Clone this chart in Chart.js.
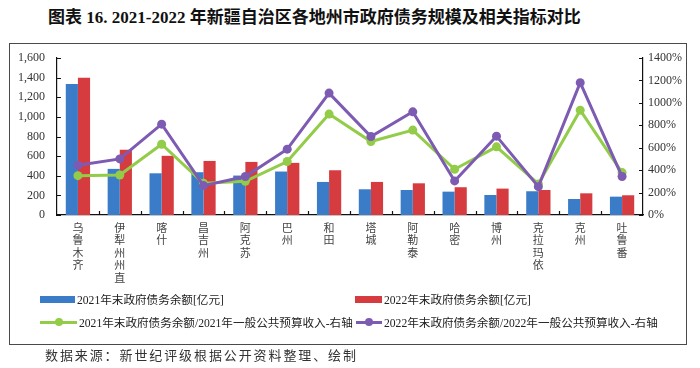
<!DOCTYPE html>
<html>
<head>
<meta charset="utf-8">
<script src="https://cdn.jsdelivr.net/npm/chart.js@4.4.1/dist/chart.umd.min.js"></script>
<style>
  html, body { margin: 0; padding: 0; background: #fff; }
  body { width: 700px; height: 368px; position: relative; overflow: hidden; }
  #title { position: absolute; left: 48px; top: 3px; font-family: "Liberation Serif", "Noto Sans CJK SC", serif; font-weight: bold; font-size: 17px; color: #111; white-space: nowrap; }
  #box { position: absolute; left: 9px; top: 43px; width: 678px; height: 302px; border: 1.5px solid #4a4a4a; box-sizing: border-box; }
  #wrap { position: absolute; left: 0; top: 0; width: 700px; height: 290px; }
  #legend { position: absolute; left: 0; top: 0; width: 700px; height: 368px; pointer-events: none; font-family: "Liberation Serif", "Noto Sans CJK SC", serif; font-size: 11.6px; color: #222; }
  .li { position: absolute; white-space: nowrap; display: flex; align-items: center; }
  .sw { display: inline-block; margin-right: 2px; position: relative; }
  #source { position: absolute; left: 45px; top: 345px; font-family: "Noto Sans CJK SC", sans-serif; font-size: 13px; letter-spacing: 1.9px; color: #333; white-space: nowrap; }
</style>
</head>
<body>
<div id="title">图表 16. 2021-2022 年新疆自治区各地州市政府债务规模及相关指标对比</div>
<div id="box"></div>
<div id="wrap"><canvas id="c" width="700" height="290"></canvas></div>
<div id="legend"></div>
<div id="source">数据来源：新世纪评级根据公开资料整理、绘制</div>
<script>
const categories = ["乌鲁木齐", "伊犁州州直", "喀什", "昌吉州", "阿克苏", "巴州", "和田", "塔城", "阿勒泰", "哈密", "博州", "克拉玛依", "克州", "吐鲁番"];
const debt2021 = [1335, 470, 425, 436, 402, 443, 337, 262, 255, 238, 204, 242, 163, 187];
const debt2022 = [1400, 664, 603, 551, 541, 531, 456, 337, 323, 283, 269, 255, 221, 201];
const ratio2021 = [351, 357, 631, 283, 301, 477, 900, 655, 757, 408, 608, 277, 935, 378];
const ratio2022 = [444, 500, 810, 262, 343, 587, 1087, 700, 920, 304, 703, 253, 1180, 343];
const leftTicks = [0, 200, 400, 600, 800, 1000, 1200, 1400, 1600];
const rightTicks = [0, 200, 400, 600, 800, 1000, 1200, 1400];
const seriesNames = ["2021年末政府债务余额[亿元]", "2022年末政府债务余额[亿元]", "2021年末政府债务余额/2021年一般公共预算收入-右轴", "2022年末政府债务余额/2022年一般公共预算收入-右轴"];

const BLUE = "#3a7cc8", RED = "#d63b3f", GREEN = "#92cc48", PURPLE = "#7e5bb3";
const tickFont = { family: "'Liberation Serif', 'Noto Sans CJK SC', serif", size: 12 };

const inwardTicks = {
  id: "inwardTicks",
  afterDraw(chart) {
    const { ctx, chartArea: a, scales } = chart;
    ctx.save();
    ctx.strokeStyle = "#111";
    ctx.lineWidth = 1.2;
    ctx.beginPath();
    leftTicks.forEach(v => { const y = Math.round(scales.y.getPixelForValue(v)) + 0.5; ctx.moveTo(a.left, y); ctx.lineTo(a.left + 4, y); });
    rightTicks.forEach(v => { const y = Math.round(scales.y1.getPixelForValue(v)) + 0.5; ctx.moveTo(a.right, y); ctx.lineTo(a.right - 4, y); });
    for (let i = 1; i < categories.length; i++) {
      const x = Math.round((scales.x.getPixelForValue(i - 1) + scales.x.getPixelForValue(i)) / 2) + 0.5;
      ctx.moveTo(x, a.bottom); ctx.lineTo(x, a.bottom - 4);
    }
    ctx.stroke();
    ctx.restore();
  }
};

const chart = new Chart(document.getElementById("c"), {
  type: "bar",
  data: {
    labels: categories.map(s => s.split("")),
    datasets: [
      { type: "line", label: seriesNames[3], data: ratio2022, yAxisID: "y1", borderColor: PURPLE, backgroundColor: PURPLE, borderWidth: 3, pointRadius: 4.5, pointBackgroundColor: PURPLE, pointBorderWidth: 0, order: 0, tension: 0 },
      { type: "line", label: seriesNames[2], data: ratio2021, yAxisID: "y1", borderColor: GREEN, backgroundColor: GREEN, borderWidth: 3, pointRadius: 4.5, pointBackgroundColor: GREEN, pointBorderWidth: 0, order: 1, tension: 0 },
      { label: seriesNames[0], data: debt2021, backgroundColor: BLUE, yAxisID: "y", order: 2, categoryPercentage: 0.58, barPercentage: 1.0 },
      { label: seriesNames[1], data: debt2022, backgroundColor: RED, yAxisID: "y", order: 2, categoryPercentage: 0.58, barPercentage: 1.0 }
    ]
  },
  options: {
    responsive: false,
    animation: false,
    layout: { padding: { left: 10, right: 12, top: 58, bottom: 5 } },
    plugins: { legend: { display: false }, tooltip: { enabled: false }, title: { display: false } },
    scales: {
      x: {
        grid: { display: false, drawTicks: false },
        border: { display: true, color: "#111", width: 1.2 },
        ticks: { color: "#444", font: { family: "'Noto Sans CJK SC', sans-serif", size: 11, lineHeight: 1.15 }, padding: 6, maxRotation: 0, autoSkip: false },
        afterFit(s) { s.height = 70; }
      },
      y: {
        position: "left", min: 0, max: 1600,
        afterBuildTicks(s) { s.ticks = leftTicks.map(v => ({ value: v })); },
        grid: { display: false, drawTicks: false },
        border: { display: true, color: "#111", width: 1.2 },
        ticks: { color: "#333", font: tickFont, padding: 12, callback: v => v.toLocaleString("en-US") },
        afterFit(s) { s.width = 47; }
      },
      y1: {
        position: "right", min: 0, max: 1400,
        afterBuildTicks(s) { s.ticks = rightTicks.map(v => ({ value: v })); },
        grid: { display: false, drawTicks: false },
        border: { display: true, color: "#111", width: 1.2 },
        ticks: { color: "#333", font: tickFont, padding: 5, callback: v => v + "%" },
        afterFit(s) { s.width = 45; }
      }
    }
  },
  plugins: [inwardTicks]
});

// HTML legend built from the chart's datasets
const legend = document.getElementById("legend");
const byLabel = {};
chart.data.datasets.forEach(d => byLabel[d.label] = d);
const spots = [
  { name: seriesNames[0], x: 40, y: 291, kind: "box" },
  { name: seriesNames[1], x: 355, y: 291, kind: "box" },
  { name: seriesNames[2], x: 40, y: 314, kind: "line" },
  { name: seriesNames[3], x: 356, y: 314, kind: "line" }
];
spots.forEach(s => {
  const d = byLabel[s.name];
  const color = d.borderColor && d.type === "line" ? d.borderColor : d.backgroundColor;
  const item = document.createElement("div");
  item.className = "li";
  item.style.left = s.x + "px";
  item.style.top = s.y + "px";
  const sw = document.createElement("span");
  sw.className = "sw";
  if (s.kind === "box") {
    sw.style.width = (s.x < 100 ? 35 : 27) + "px";
    sw.style.height = "7px";
    sw.style.background = color;
  } else {
    const w = s.x < 100 ? 37 : 26;
    sw.style.width = w + "px";
    sw.style.height = "3px";
    sw.style.background = color;
    const dot = document.createElement("span");
    dot.style.cssText = "position:absolute;width:8px;height:8px;border-radius:50%;top:-2.5px;left:" + (w / 2 - 4) + "px;background:" + color;
    sw.appendChild(dot);
  }
  item.appendChild(sw);
  const t = document.createElement("span");
  t.textContent = s.name;
  item.appendChild(t);
  legend.appendChild(item);
});
</script>
</body>
</html>
